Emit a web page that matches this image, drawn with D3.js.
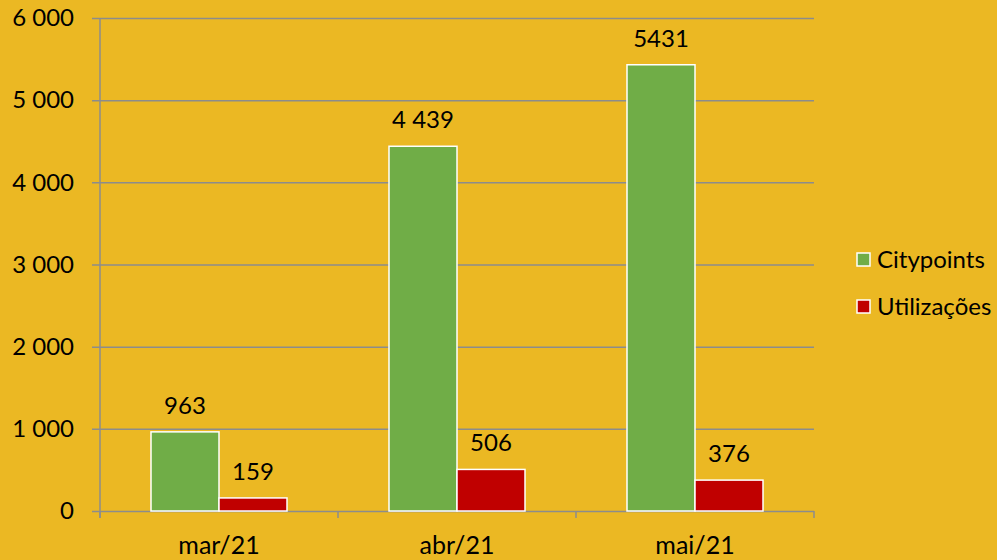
<!DOCTYPE html>
<html>
<head>
<meta charset="utf-8">
<script src="https://cdn.jsdelivr.net/npm/d3@7"></script>
<style>
  html, body { margin: 0; padding: 0; background: #ebb823; }
  svg { display: block; font-family: 'Lato', 'Noto Sans', sans-serif; }
</style>
</head>
<body>
<svg></svg>
<script>
const months = ['mar/21', 'abr/21', 'mai/21']
const seriesNames = ['Citypoints', 'Utilizações']
const citypoints = [963, 4439, 5431]
const utilizacoes = [159, 506, 376]
const labelsCity = ['963', '4 439', '5431']
const labelsUtil = ['159', '506', '376']
const yTicks = [0, 1000, 2000, 3000, 4000, 5000, 6000]

const width = 997
const height = 560
const margin = { top: 18, bottom: 49, left: 100, right: 183 }
const colors = ['#70ad47', '#c00000']
const fontSize = 25

const svg = d3.select('svg').attr('width', width).attr('height', height)

const data = months.map((m, i) => ({ month: m, values: [citypoints[i], utilizacoes[i]], labels: [labelsCity[i], labelsUtil[i]] }))

const xScale = d3.scaleBand()
  .domain(months)
  .range([margin.left, width - margin.right])

const inner = d3.scaleBand()
  .domain([0, 1])
  .range([0, xScale.bandwidth()])
  .paddingOuter(0.75)

const yScale = d3.scaleLinear()
  .domain([0, 6000])
  .range([height - margin.bottom, margin.top])

const fmt = d => d3.format(',')(d).replace(',', ' ')

/** gridlines + y labels */
const yAxis = d3.axisLeft(yScale)
  .tickValues(yTicks)
  .tickSize(-(width - margin.left - margin.right))
  .tickSizeOuter(0)
  .tickPadding(26)
  .tickFormat(fmt)

const gy = svg.append('g')
  .attr('transform', `translate(${margin.left},0)`)
  .call(yAxis)
gy.select('.domain').remove()
gy.selectAll('.tick line').attr('stroke', '#8c8c8c').attr('stroke-width', 1.5).attr('x1', -8)
gy.selectAll('.tick text').attr('font-size', 24).attr('fill', '#000').attr('font-family', 'Lato, sans-serif')

// vertical axis line
svg.append('line')
  .attr('x1', margin.left).attr('x2', margin.left)
  .attr('y1', margin.top).attr('y2', height - margin.bottom + 7)
  .attr('stroke', '#8c8c8c').attr('stroke-width', 1.5)

/** x axis */
const xTickPos = months.map(m => xScale(m)).concat([xScale(months[months.length - 1]) + xScale.bandwidth()])
svg.selectAll('.xtick')
  .data(xTickPos)
  .enter()
  .append('line')
  .attr('x1', d => d).attr('x2', d => d)
  .attr('y1', height - margin.bottom).attr('y2', height - margin.bottom + 7)
  .attr('stroke', '#8c8c8c').attr('stroke-width', 1.5)

svg.selectAll('.xlabel')
  .data(months)
  .enter()
  .append('text')
  .attr('x', d => xScale(d) + xScale.bandwidth() / 2)
  .attr('y', height - 6)
  .attr('text-anchor', 'middle')
  .attr('font-size', fontSize)
  .text(d => d)

/** bars */
const groups = svg.selectAll('.grp')
  .data(data)
  .enter()
  .append('g')
  .attr('transform', d => `translate(${xScale(d.month)},0)`)

groups.selectAll('rect')
  .data(d => d.values.map((v, k) => ({ v, k })))
  .enter()
  .append('rect')
  .attr('x', d => inner(d.k))
  .attr('width', inner.bandwidth())
  .attr('y', d => yScale(d.v))
  .attr('height', d => yScale(0) - yScale(d.v))
  .attr('fill', d => colors[d.k])
  .attr('stroke', '#fff')
  .attr('stroke-width', 1.5)

groups.selectAll('text')
  .data(d => d.values.map((v, k) => ({ v, k, label: d.labels[k] })))
  .enter()
  .append('text')
  .attr('x', d => inner(d.k) + inner.bandwidth() / 2)
  .attr('y', d => yScale(d.v) - 18)
  .attr('text-anchor', 'middle')
  .attr('font-size', 24)
  .text(d => d.label)

/** legend */
const legend = svg.append('g').attr('transform', 'translate(857,253)')
seriesNames.forEach((name, i) => {
  const g = legend.append('g').attr('transform', `translate(0,${i * 47})`)
  g.append('rect')
    .attr('width', 13).attr('height', 13)
    .attr('fill', colors[i]).attr('stroke', '#fff').attr('stroke-width', 1.5)
  g.append('text')
    .attr('x', 20).attr('y', 15)
    .attr('font-size', 24)
    .text(name)
})
</script>
</body>
</html>
